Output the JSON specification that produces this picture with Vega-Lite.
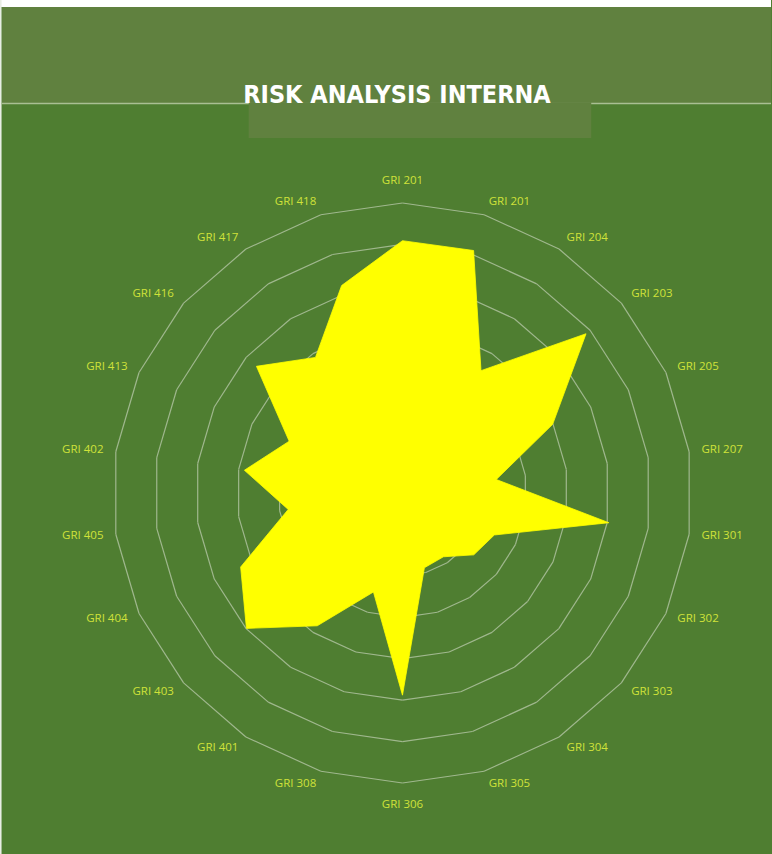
{
  "$schema": "https://vega.github.io/schema/vega-lite/v6.json",
  "width": 772,
  "height": 854,
  "autosize": {"type": "fit", "contains": "padding"},
  "padding": 0,
  "background": "#4F7E31",
  "config": {"view": {"stroke": null}},
  "datasets": {
    "axes": [
      {"axis": "GRI 201", "k": 0, "value": 6.09},
      {"axis": "GRI 201", "k": 1, "value": 6.10},
      {"axis": "GRI 204", "k": 2, "value": 3.51},
      {"axis": "GRI 203", "k": 3, "value": 5.87},
      {"axis": "GRI 205", "k": 4, "value": 3.99},
      {"axis": "GRI 207", "k": 5, "value": 2.29},
      {"axis": "GRI 301", "k": 6, "value": 5.04},
      {"axis": "GRI 302", "k": 7, "value": 2.44},
      {"axis": "GRI 303", "k": 8, "value": 2.28},
      {"axis": "GRI 304", "k": 9, "value": 1.83},
      {"axis": "GRI 305", "k": 10, "value": 1.88},
      {"axis": "GRI 306", "k": 11, "value": 4.88},
      {"axis": "GRI 308", "k": 12, "value": 2.49},
      {"axis": "GRI 401", "k": 13, "value": 3.81},
      {"axis": "GRI 403", "k": 14, "value": 4.99},
      {"axis": "GRI 404", "k": 15, "value": 4.30},
      {"axis": "GRI 405", "k": 16, "value": 2.79},
      {"axis": "GRI 402", "k": 17, "value": 3.86},
      {"axis": "GRI 413", "k": 18, "value": 3.01},
      {"axis": "GRI 416", "k": 19, "value": 4.67},
      {"axis": "GRI 417", "k": 20, "value": 3.89},
      {"axis": "GRI 418", "k": 21, "value": 5.22}
    ]
  },
  "layer": [
    {
      "data": {"values": [{}]},
      "mark": {"type": "rect", "color": "#60813F"},
      "encoding": {
        "x": {"datum": -9.679, "type": "quantitative", "scale": {"domain": [-9.7276, 8.9069], "nice": false, "zero": false}, "axis": null},
        "x2": {"datum": 8.9069},
        "y": {"datum": 11.731, "type": "quantitative", "scale": {"domain": [-8.7138, 11.9], "nice": false, "zero": false}, "axis": null},
        "y2": {"datum": 9.4138}
      }
    },
    {
      "data": {"values": [{}]},
      "mark": {"type": "rect", "color": "#FFFFFF"},
      "encoding": {
        "x": {"datum": -9.7276, "type": "quantitative", "scale": {"domain": [-9.7276, 8.9069], "nice": false, "zero": false}, "axis": null},
        "x2": {"datum": 8.9069},
        "y": {"datum": 11.9, "type": "quantitative", "scale": {"domain": [-8.7138, 11.9], "nice": false, "zero": false}, "axis": null},
        "y2": {"datum": 11.731}
      }
    },
    {
      "data": {"values": [{}]},
      "mark": {"type": "rect", "color": "#E8EDE4"},
      "encoding": {
        "x": {"datum": -9.7276, "type": "quantitative", "scale": {"domain": [-9.7276, 8.9069], "nice": false, "zero": false}, "axis": null},
        "x2": {"datum": -9.690},
        "y": {"datum": 11.9, "type": "quantitative", "scale": {"domain": [-8.7138, 11.9], "nice": false, "zero": false}, "axis": null},
        "y2": {"datum": -8.7138}
      }
    },
    {
      "data": {"values": [{}]},
      "mark": {"type": "rule", "color": "#A9BF93", "strokeWidth": 1.5},
      "encoding": {
        "x": {"datum": -9.690, "type": "quantitative", "scale": {"domain": [-9.7276, 8.9069], "nice": false, "zero": false}, "axis": null},
        "x2": {"datum": 8.9069},
        "y": {"datum": 9.402, "type": "quantitative", "scale": {"domain": [-8.7138, 11.9], "nice": false, "zero": false}, "axis": null}
      }
    },
    {
      "data": {"values": [{}]},
      "mark": {"type": "rect", "color": "#60813F"},
      "encoding": {
        "x": {"datum": -3.7172, "type": "quantitative", "scale": {"domain": [-9.7276, 8.9069], "nice": false, "zero": false}, "axis": null},
        "x2": {"datum": 4.562},
        "y": {"datum": 9.43, "type": "quantitative", "scale": {"domain": [-8.7138, 11.9], "nice": false, "zero": false}, "axis": null},
        "y2": {"datum": 8.569}
      }
    },
    {
      "data": {"values": [{"title": "RISK ANALYSIS INTERNA"}]},
      "mark": {"type": "text", "color": "#FFFFFF", "font": "Liberation Sans Narrow, DejaVu Sans Condensed, Roboto, sans-serif", "fontWeight": "bold", "fontSize": 25, "align": "center", "baseline": "alphabetic"},
      "encoding": {
        "x": {"datum": -0.133, "type": "quantitative", "scale": {"domain": [-9.7276, 8.9069], "nice": false, "zero": false}, "axis": null},
        "y": {"datum": 9.4138, "type": "quantitative", "scale": {"domain": [-8.7138, 11.9], "nice": false, "zero": false}, "axis": null},
        "text": {"field": "title"}
      }
    },
    {
      "data": {"name": "axes"},
      "transform": [
        {"calculate": "datum.k * 2 * PI / 22", "as": "a0"},
        {"calculate": "(datum.k + 1) * 2 * PI / 22", "as": "a1"},
        {"calculate": "[1, 2, 3, 4, 5, 6, 7]", "as": "levels"},
        {"flatten": ["levels"], "as": ["lv"]},
        {"calculate": "datum.lv * sin(datum.a0)", "as": "rx"},
        {"calculate": "datum.lv * cos(datum.a0)", "as": "ry"},
        {"calculate": "datum.lv * sin(datum.a1)", "as": "rx2"},
        {"calculate": "datum.lv * cos(datum.a1)", "as": "ry2"}
      ],
      "mark": {"type": "rule", "color": "#A8BE98", "strokeWidth": 1.2, "opacity": 0.9},
      "encoding": {
        "x": {"field": "rx", "type": "quantitative", "scale": {"domain": [-9.7276, 8.9069], "nice": false, "zero": false}, "axis": null},
        "y": {"field": "ry", "type": "quantitative", "scale": {"domain": [-8.7138, 11.9], "nice": false, "zero": false}, "axis": null},
        "x2": {"field": "rx2"},
        "y2": {"field": "ry2"}
      }
    },
    {
      "data": {"name": "axes"},
      "transform": [
        {"calculate": "datum.k * 2 * PI / 22", "as": "a0"},
        {"calculate": "datum.value * sin(datum.a0)", "as": "px"},
        {"calculate": "datum.value * cos(datum.a0)", "as": "py"}
      ],
      "mark": {"type": "line", "fill": "#FFFF00", "stroke": "#FFFF00", "strokeWidth": 0.8, "interpolate": "linear-closed"},
      "encoding": {
        "x": {"field": "px", "type": "quantitative", "scale": {"domain": [-9.7276, 8.9069], "nice": false, "zero": false}, "axis": null},
        "y": {"field": "py", "type": "quantitative", "scale": {"domain": [-8.7138, 11.9], "nice": false, "zero": false}, "axis": null},
        "order": {"field": "k", "type": "quantitative"}
      }
    },
    {
      "data": {"name": "axes"},
      "transform": [
        {"calculate": "datum.k * 2 * PI / 22", "as": "a0"},
        {"calculate": "sin(datum.a0)", "as": "s"},
        {"calculate": "cos(datum.a0)", "as": "c"},
        {"calculate": "7.26 * datum.s + (datum.s > 0.01 ? 0.54 : (datum.s < -0.01 ? -0.54 : 0))", "as": "lx"},
        {"calculate": "7.32 * datum.c + (abs(datum.s) < 0.01 ? 0.22 * datum.c : 0)", "as": "ly"}
      ],
      "mark": {"type": "text", "color": "#CFE23A", "font": "Open Sans", "fontSize": 11.5, "align": "center", "baseline": "middle"},
      "encoding": {
        "x": {"field": "lx", "type": "quantitative", "scale": {"domain": [-9.7276, 8.9069], "nice": false, "zero": false}, "axis": null},
        "y": {"field": "ly", "type": "quantitative", "scale": {"domain": [-8.7138, 11.9], "nice": false, "zero": false}, "axis": null},
        "text": {"field": "axis"}
      }
    }
  ]
}
